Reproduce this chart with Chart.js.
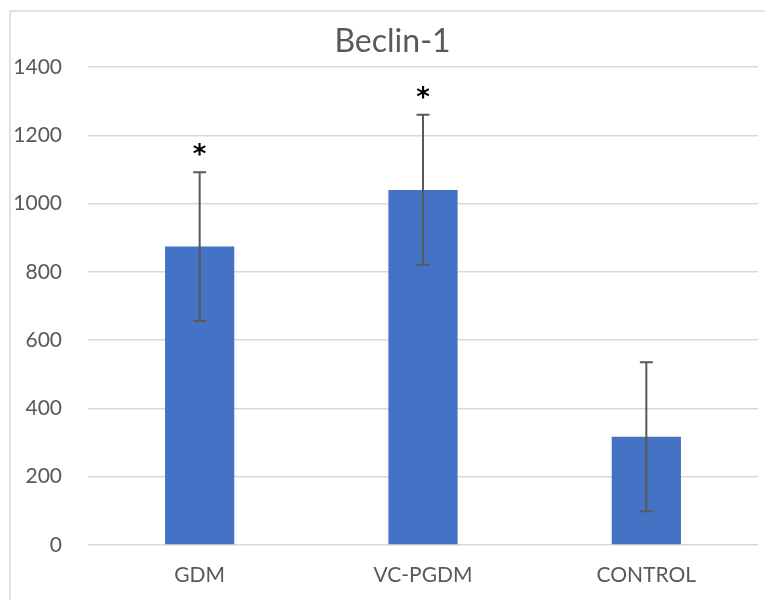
<!DOCTYPE html>
<html>
<head>
<meta charset="utf-8">
<script src="https://cdn.jsdelivr.net/npm/chart.js@4/dist/chart.umd.min.js"></script>
<style>
  html, body { margin: 0; padding: 0; background: #ffffff; }
  #wrap { width: 765px; height: 600px; }
</style>
</head>
<body>
<div id="wrap"><canvas id="beclinChart" width="765" height="600"></canvas></div>
<script>
var categories = ['GDM', 'VC-PGDM', 'CONTROL'];
var meanValues = [874, 1040, 317];
var errValues = [218, 220, 218];
var sigMarks = ['*', '*', ''];
var yTicks = [0, 200, 400, 600, 800, 1000, 1200, 1400];
var chartTitle = 'Beclin-1';

var textGray = '#595959';

// outer frame of the figure + title centred on the frame
var framePlugin = {
  id: 'frame',
  beforeDraw: function (chart) {
    var ctx = chart.ctx;
    ctx.save();
    ctx.fillStyle = '#ffffff';
    ctx.fillRect(0, 0, chart.width, chart.height);
    ctx.strokeStyle = '#d9d9d9';
    ctx.lineWidth = 1.5;
    ctx.strokeRect(10, 11, chart.width + 10, chart.height + 20);
    ctx.fillStyle = textGray;
    ctx.font = '32px Lato';
    ctx.textAlign = 'center';
    ctx.textBaseline = 'middle';
    ctx.fillText(chartTitle, (10 + chart.width + 10) / 2, chart.chartArea.top - 25);
    ctx.restore();
  }
};

// error bars + significance stars
var errorPlugin = {
  id: 'errbars',
  afterDatasetsDraw: function (chart) {
    var ctx = chart.ctx;
    var meta = chart.getDatasetMeta(0);
    var ys = chart.scales.y;
    ctx.save();
    for (var i = 0; i < meanValues.length; i++) {
      var x = meta.data[i].x;
      var top = ys.getPixelForValue(meanValues[i] + errValues[i]);
      var bot = ys.getPixelForValue(meanValues[i] - errValues[i]);
      ctx.strokeStyle = '#595959';
      ctx.lineWidth = 2;
      ctx.beginPath();
      ctx.moveTo(x, top); ctx.lineTo(x, bot);
      ctx.moveTo(x - 6.5, top); ctx.lineTo(x + 6.5, top);
      ctx.moveTo(x - 6.5, bot); ctx.lineTo(x + 6.5, bot);
      ctx.stroke();
      if (sigMarks[i]) {
        ctx.fillStyle = '#000000';
        ctx.font = 'bold 26px "DejaVu Sans"';
        ctx.textAlign = 'center';
        ctx.textBaseline = 'middle';
        ctx.fillText(sigMarks[i], x, top - 16);
      }
    }
    ctx.restore();
  }
};

var ctx = document.getElementById('beclinChart').getContext('2d');
var myChart = new Chart(ctx, {
  type: 'bar',
  data: {
    labels: categories,
    datasets: [{
      label: chartTitle,
      data: meanValues,
      backgroundColor: '#4472c4',
      borderWidth: 0,
      barPercentage: 0.31,
      categoryPercentage: 1.0
    }]
  },
  options: {
    responsive: false,
    animation: false,
    layout: { padding: { top: 67, right: 7, bottom: 11, left: 0 } },
    scales: {
      y: {
        min: 0, max: 1400,
        afterBuildTicks: function (axis) {
          axis.ticks = yTicks.map(function (v) { return { value: v }; });
        },
        afterFit: function (axis) { axis.width = 88; },
        ticks: {
          color: textGray, font: { family: 'Lato', size: 21 }, padding: 26,
          callback: function (val) { return String(val); }
        },
        grid: { color: '#d9d9d9', lineWidth: 1.5, drawTicks: false },
        border: { display: false }
      },
      x: {
        afterFit: function (axis) { axis.height = 44; },
        ticks: { color: textGray, font: { family: 'Lato', size: 21 }, padding: 18 },
        grid: { display: false, drawTicks: false },
        border: { display: false }
      }
    },
    plugins: {
      legend: { display: false },
      tooltip: { enabled: false },
      title: { display: false }
    }
  },
  plugins: [framePlugin, errorPlugin]
});
</script>
</body>
</html>
